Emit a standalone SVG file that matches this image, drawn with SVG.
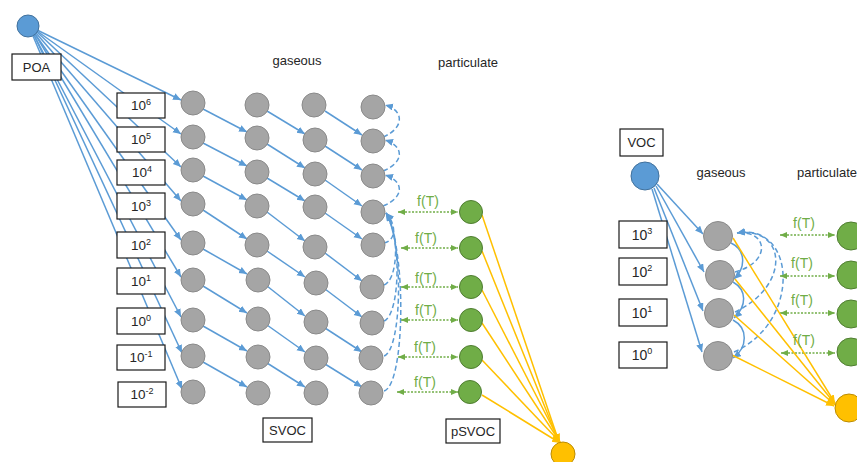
<svg xmlns="http://www.w3.org/2000/svg" width="857" height="462" viewBox="0 0 857 462">
<style>
text{font-family:"Liberation Sans",Arial,sans-serif;fill:#262626;}
.lbl{font-size:13px;}
.box{fill:#fff;stroke:#1a1a1a;stroke-width:1.2;}
.bt{font-size:13.5px;text-anchor:middle;}
.bt2{font-size:14px;text-anchor:middle;}
.sup{font-size:9px;}
.grey{fill:#A5A5A5;stroke:#8A8A8A;stroke-width:1;}
.green{fill:#70AD47;stroke:#507E32;stroke-width:1;}
.yellow{fill:#FFC000;stroke:#BC8C00;stroke-width:1;}
.blue{fill:#5B9BD5;stroke:#41719C;stroke-width:1;}
.bl{stroke:#5B9BD5;stroke-width:1.5;fill:none;marker-end:url(#ab);}
.bd{stroke:#5B9BD5;stroke-width:1.5;fill:none;stroke-dasharray:5 3;marker-end:url(#ab);}
.gd{stroke:#70AD47;stroke-width:1.5;fill:none;stroke-dasharray:2 1.5;marker-end:url(#ag);marker-start:url(#ag);}
.yl{stroke:#FFC000;stroke-width:1.5;fill:none;marker-end:url(#ay);}
.ft{font-size:14px;fill:#70AD47;text-anchor:middle;}
</style>
<defs>
<marker id="ab" markerUnits="userSpaceOnUse" markerWidth="9" markerHeight="8" refX="8" refY="3.5" orient="auto"><path d="M0,0 L8,3.5 L0,7 z" fill="#5B9BD5"/></marker>
<marker id="ag" markerUnits="userSpaceOnUse" markerWidth="8" markerHeight="7" refX="7" refY="3" orient="auto-start-reverse"><path d="M0,0 L7,3 L0,6 z" fill="#70AD47"/></marker>
<marker id="ay" markerUnits="userSpaceOnUse" markerWidth="9" markerHeight="8" refX="8" refY="3.5" orient="auto"><path d="M0,0 L8,3.5 L0,7 z" fill="#FFC000"/></marker>
</defs>

<g id="connectors">
<line class="bl" x1="37" y1="30" x2="181" y2="100"/>
<line class="bl" x1="37" y1="31" x2="181" y2="134"/>
<line class="bl" x1="37" y1="32" x2="181" y2="167"/>
<line class="bl" x1="36" y1="33" x2="181" y2="201"/>
<line class="bl" x1="35" y1="34" x2="181" y2="240"/>
<line class="bl" x1="35" y1="34" x2="181" y2="277"/>
<line class="bl" x1="34" y1="35" x2="181" y2="317"/>
<line class="bl" x1="34" y1="35" x2="182" y2="353"/>
<line class="bl" x1="33" y1="36" x2="182" y2="389"/>
<line class="bl" x1="203" y1="109" x2="247" y2="132"/>
<line class="bl" x1="203" y1="143" x2="247" y2="166"/>
<line class="bl" x1="203" y1="176" x2="247" y2="200"/>
<line class="bl" x1="203" y1="210" x2="247" y2="239"/>
<line class="bl" x1="203" y1="249" x2="247" y2="274"/>
<line class="bl" x1="203" y1="286" x2="247" y2="313"/>
<line class="bl" x1="203" y1="326" x2="247" y2="351"/>
<line class="bl" x1="203" y1="362" x2="247" y2="387"/>
<line class="bl" x1="267" y1="111" x2="305" y2="134"/>
<line class="bl" x1="267" y1="144" x2="305" y2="168"/>
<line class="bl" x1="267" y1="178" x2="305" y2="201"/>
<line class="bl" x1="267" y1="212" x2="305" y2="241"/>
<line class="bl" x1="267" y1="251" x2="305" y2="277"/>
<line class="bl" x1="267" y1="286" x2="305" y2="316"/>
<line class="bl" x1="267" y1="325" x2="305" y2="352"/>
<line class="bl" x1="267" y1="363" x2="305" y2="387"/>
<line class="bl" x1="325" y1="111" x2="362" y2="135"/>
<line class="bl" x1="325" y1="146" x2="362" y2="170"/>
<line class="bl" x1="325" y1="180" x2="362" y2="206"/>
<line class="bl" x1="325" y1="213" x2="362" y2="239"/>
<line class="bl" x1="325" y1="253" x2="362" y2="281"/>
<line class="bl" x1="325" y1="289" x2="362" y2="317"/>
<line class="bl" x1="325" y1="328" x2="362" y2="352"/>
<line class="bl" x1="325" y1="364" x2="362" y2="387"/>
<path class="bd" d="M383,137 C405,128 404,110 385,105"/>
<path class="bd" d="M383,171 C405,162 404,146 385,140"/>
<path class="bd" d="M383,206 C405,197 404,181 385,175"/>
<path class="bd" d="M384,243 C397,240 396,224 386,213"/>
<path class="bd" d="M384,285 C398,280 400,232 386,213"/>
<path class="bd" d="M384,321 C400,315 402,238 386,213"/>
<path class="bd" d="M384,356 C402,350 404,244 386,213"/>
<path class="bd" d="M384,391 C405,385 407,250 386,213"/>
<line class="gd" x1="398" y1="212" x2="458" y2="212"/>
<line class="gd" x1="401" y1="248" x2="458" y2="248"/>
<line class="gd" x1="401" y1="287" x2="458" y2="287"/>
<line class="gd" x1="401" y1="320" x2="458" y2="320"/>
<line class="gd" x1="398" y1="357" x2="458" y2="357"/>
<line class="gd" x1="397" y1="392" x2="458" y2="392"/>
<line class="yl" x1="482" y1="215" x2="559" y2="442"/>
<line class="yl" x1="482" y1="251" x2="559" y2="442"/>
<line class="yl" x1="482" y1="290" x2="560" y2="442"/>
<line class="yl" x1="482" y1="323" x2="560" y2="442"/>
<line class="yl" x1="482" y1="360" x2="560" y2="442"/>
<line class="yl" x1="482" y1="395" x2="560" y2="443"/>
<line class="bl" x1="657" y1="184" x2="703" y2="234"/>
<line class="bl" x1="656" y1="186" x2="704" y2="272"/>
<line class="bl" x1="654" y1="188" x2="703" y2="311"/>
<line class="bl" x1="652" y1="189" x2="702" y2="352"/>
<path class="bl" d="M731,243 C746,250 746,268 734,279"/>
<path class="bl" d="M733,282 C747,290 747,306 734,318"/>
<path class="bl" d="M733,320 C748,328 748,347 733,358"/>
<path class="bd" d="M735,272 C772,262 768,230 737,233"/>
<path class="bd" d="M735,312 C792,285 786,226 737,233"/>
<path class="bd" d="M734,352 C802,322 796,222 737,233"/>
<line class="gd" x1="780" y1="235" x2="835" y2="235"/>
<line class="gd" x1="780" y1="276" x2="835" y2="276"/>
<line class="gd" x1="780" y1="313" x2="835" y2="313"/>
<line class="gd" x1="781" y1="353" x2="835" y2="353"/>
<line class="yl" x1="733" y1="238" x2="835" y2="403"/>
<line class="yl" x1="735" y1="279" x2="835" y2="404"/>
<line class="yl" x1="734" y1="315" x2="835" y2="405"/>
<line class="yl" x1="732" y1="355" x2="834" y2="406"/>
</g>

<g id="POA-source"><circle class="blue" cx="28" cy="26" r="11"/></g>
<g id="POA-label"><rect class="box" x="12" y="54" width="49" height="26"/><text class="lbl" x="36.5" y="72" text-anchor="middle">POA</text></g>
<g id="label-gaseous"><text class="lbl" x="297" y="65" text-anchor="middle">gaseous</text></g>
<g id="label-particulate"><text class="lbl" x="468" y="67" text-anchor="middle">particulate</text></g>

<g id="bin-1e6"><rect class="box" x="117" y="93" width="48" height="25"/><text class="bt" x="141" y="110">10<tspan class="sup" dy="-5">6</tspan></text></g>
<g id="bin-1e5"><rect class="box" x="117" y="127" width="48" height="25"/><text class="bt" x="141" y="144">10<tspan class="sup" dy="-5">5</tspan></text></g>
<g id="bin-1e4"><rect class="box" x="117" y="160" width="48" height="25"/><text class="bt" x="142" y="177">10<tspan class="sup" dy="-5">4</tspan></text></g>
<g id="bin-1e3"><rect class="box" x="117" y="193" width="48" height="26"/><text class="bt" x="141" y="211">10<tspan class="sup" dy="-5">3</tspan></text></g>
<g id="bin-1e2"><rect class="box" x="117" y="232" width="48" height="26"/><text class="bt" x="141" y="250">10<tspan class="sup" dy="-5">2</tspan></text></g>
<g id="bin-1e1"><rect class="box" x="117" y="268" width="48" height="26"/><text class="bt" x="141" y="286">10<tspan class="sup" dy="-5">1</tspan></text></g>
<g id="bin-1e0"><rect class="box" x="117" y="308" width="48" height="26"/><text class="bt" x="141" y="326">10<tspan class="sup" dy="-5">0</tspan></text></g>
<g id="bin-1em1"><rect class="box" x="117" y="345" width="48" height="25"/><text class="bt" x="141" y="362">10<tspan class="sup" dy="-5">-1</tspan></text></g>
<g id="bin-1em2"><rect class="box" x="118" y="382" width="48" height="25"/><text class="bt" x="142" y="399">10<tspan class="sup" dy="-5">-2</tspan></text></g>

<g id="gas-c1">
<circle class="grey" cx="193" cy="103" r="12"/><circle class="grey" cx="193" cy="137" r="12"/><circle class="grey" cx="193" cy="170" r="12"/><circle class="grey" cx="193" cy="204" r="12"/><circle class="grey" cx="193" cy="243" r="12"/><circle class="grey" cx="193" cy="280" r="12"/><circle class="grey" cx="193" cy="320" r="12"/><circle class="grey" cx="193" cy="356" r="12"/><circle class="grey" cx="193" cy="392" r="12"/>
</g>
<g id="gas-c2">
<circle class="grey" cx="257" cy="105" r="12"/><circle class="grey" cx="257" cy="138" r="12"/><circle class="grey" cx="257" cy="172" r="12"/><circle class="grey" cx="257" cy="206" r="12"/><circle class="grey" cx="257" cy="245" r="12"/><circle class="grey" cx="258" cy="280" r="12"/><circle class="grey" cx="258" cy="319" r="12"/><circle class="grey" cx="258" cy="357" r="12"/><circle class="grey" cx="258" cy="393" r="12"/>
</g>
<g id="gas-c3">
<circle class="grey" cx="314" cy="105" r="12"/><circle class="grey" cx="315" cy="140" r="12"/><circle class="grey" cx="315" cy="174" r="12"/><circle class="grey" cx="315" cy="207" r="12"/><circle class="grey" cx="315" cy="247" r="12"/><circle class="grey" cx="316" cy="283" r="12"/><circle class="grey" cx="316" cy="322" r="12"/><circle class="grey" cx="316" cy="358" r="12"/><circle class="grey" cx="316" cy="393" r="12"/>
</g>
<g id="gas-c4">
<circle class="grey" cx="373" cy="107" r="12"/><circle class="grey" cx="373" cy="141" r="12"/><circle class="grey" cx="373" cy="176" r="12"/><circle class="grey" cx="373" cy="212" r="12"/><circle class="grey" cx="373" cy="245" r="12"/><circle class="grey" cx="372" cy="287" r="12"/><circle class="grey" cx="372" cy="323" r="12"/><circle class="grey" cx="371" cy="358" r="12"/><circle class="grey" cx="371" cy="393" r="12"/>
</g>

<g id="ft-labels-left">
<text class="ft" x="428" y="206">f(T)</text>
<text class="ft" x="426" y="243">f(T)</text>
<text class="ft" x="426" y="283">f(T)</text>
<text class="ft" x="426" y="315">f(T)</text>
<text class="ft" x="425" y="352">f(T)</text>
<text class="ft" x="425" y="387">f(T)</text>
</g>

<g id="particle-left">
<circle class="green" cx="471" cy="212" r="11.5"/><circle class="green" cx="471" cy="248" r="11.5"/><circle class="green" cx="471" cy="287" r="11.5"/><circle class="green" cx="471" cy="320" r="11.5"/><circle class="green" cx="471" cy="357" r="11.5"/><circle class="green" cx="470" cy="392" r="11.5"/>
</g>
<g id="SOA-left"><circle class="yellow" cx="563" cy="454" r="12"/></g>
<g id="SVOC-label"><rect class="box" x="263" y="418" width="49" height="24"/><text class="lbl" x="287.5" y="435" text-anchor="middle">SVOC</text></g>
<g id="pSVOC-label"><rect class="box" x="446" y="419" width="54" height="24"/><text class="lbl" x="473" y="436" text-anchor="middle">pSVOC</text></g>

<g id="VOC-label"><rect class="box" x="620" y="129" width="43" height="27"/><text class="lbl" x="641.5" y="147" text-anchor="middle">VOC</text></g>
<g id="VOC-source"><circle class="blue" cx="645" cy="176" r="14"/></g>
<g id="label-gaseous-r"><text class="lbl" x="721" y="177" text-anchor="middle">gaseous</text></g>
<g id="label-particulate-r"><text class="lbl" x="797" y="177">particulate</text></g>

<g id="r-bin-1e3"><rect class="box" x="619" y="221" width="48" height="27"/><text class="bt2" x="642" y="240">10<tspan class="sup" dy="-6">3</tspan></text></g>
<g id="r-bin-1e2"><rect class="box" x="619" y="258" width="48" height="27"/><text class="bt2" x="642" y="277">10<tspan class="sup" dy="-6">2</tspan></text></g>
<g id="r-bin-1e1"><rect class="box" x="619" y="299" width="48" height="27"/><text class="bt2" x="642" y="318">10<tspan class="sup" dy="-6">1</tspan></text></g>
<g id="r-bin-1e0"><rect class="box" x="619" y="342" width="48" height="26"/><text class="bt2" x="642" y="360">10<tspan class="sup" dy="-6">0</tspan></text></g>

<g id="r-gas">
<circle class="grey" cx="718" cy="236" r="14.5"/><circle class="grey" cx="720" cy="275" r="14.5"/><circle class="grey" cx="719" cy="313" r="14.5"/><circle class="grey" cx="718" cy="356" r="14.5"/>
</g>
<g id="ft-labels-right">
<text class="ft" x="804" y="228">f(T)</text>
<text class="ft" x="802" y="268">f(T)</text>
<text class="ft" x="802" y="305">f(T)</text>
<text class="ft" x="804" y="345">f(T)</text>
</g>
<g id="r-particle">
<circle class="green" cx="851" cy="236" r="14"/><circle class="green" cx="851" cy="275" r="14"/><circle class="green" cx="851" cy="314" r="14"/><circle class="green" cx="851" cy="352" r="14"/>
</g>
<g id="SOA-right"><circle class="yellow" cx="849" cy="408" r="14"/></g>
</svg>
